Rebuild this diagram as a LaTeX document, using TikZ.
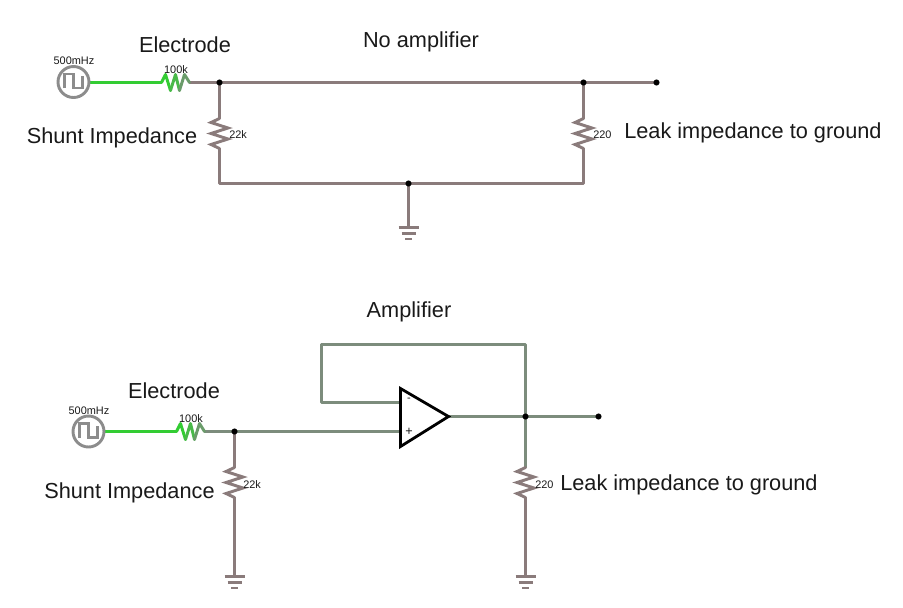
\documentclass[tikz,border=0pt]{standalone}
\usepackage{fontspec}
\usetikzlibrary{backgrounds}
\setmainfont{Liberation Sans}
\definecolor{wireA}{HTML}{8A7B7B}
\definecolor{wireB}{HTML}{7C8C7C}
\definecolor{live}{HTML}{33CC33}
\definecolor{srcgray}{HTML}{8C8C8C}
\tikzset{
  x=0.75pt,y=-0.75pt,
  wire/.style={line width=2.2pt,color=wireA,line cap=round,line join=round},
  wireg/.style={wire,color=wireB},
  wirelive/.style={wire,color=live},
  dot/.style={circle,fill=black,inner sep=0pt,minimum size=4.6pt},
  lab/.style={font=\fontsize{16.3}{19}\selectfont,text=black!90,inner sep=0pt},
  small/.style={font=\fontsize{8.2}{10}\selectfont,text=black!90,inner sep=0pt},
  pt/.style={inner sep=0pt,outer sep=0pt,minimum size=0pt},
  pics/srcwave/.style={code={
    \draw[line width=2.2pt,color=srcgray] (0,0) circle (15.5);
    \draw[line width=1.9pt,color=srcgray,line join=miter] (-9,6)--(-9,-8)--(0,-8)--(0,6)--(9,6)--(9,-6);
  }},
  pics/gnd/.style={code={
    \draw[wire,line cap=butt,line width=1.7pt] (-10,0)--(10,0);
    \draw[wire,line cap=butt,line width=1.7pt] (-7,6)--(7,6);
    \draw[wire,line cap=butt,line width=1.7pt] (-3.5,11.5)--(3.5,11.5);
  }},
  pics/vres/.style={code={
    \draw[wire,line join=miter] (0,0)--(-8.5,4)--(8.5,9.5)--(-8.5,15)--(8.5,20.5)--(-8.5,26)--(0,30);
  }},
  pics/hres/.style={code={
    \draw[wire,color=live] (0,0)--(4,-8)--(9,8);
    \draw[wire,color=live!70!wireB] (9,8)--(14,-8)--(18,8);
    \draw[wire,color=live!25!wireB] (18,8)--(23,-8)--(28,0);
  }}
}
\begin{document}
\begin{tikzpicture}
\useasboundingbox (0,0) rectangle (903,607);
\begin{scope}[shift={(0.5,0.5)}]
% ---- top circuit
\pic at (73,81.5) {srcwave};
\node[pt] (s1) at (89,82) {};
\node[pt] (r1a) at (161,82) {};
\node[pt] (r1b) at (189,82) {};
\pic at (r1a) {hres};
\node[dot] (j1) at (219,82) {};
\node[dot] (j2) at (583,82) {};
\node[dot] (o1) at (656,82) {};
\node[pt] (r2a) at (219,118) {};
\node[pt] (r2b) at (219,148) {};
\pic at (r2a) {vres};
\node[pt] (r3a) at (583,118) {};
\node[pt] (r3b) at (583,148) {};
\pic at (r3a) {vres};
\node[pt] (c1) at (219,183) {};
\node[pt] (c2) at (583,183) {};
\node[dot] (j3) at (408,183) {};
\node[pt] (g1) at (408,227) {};
\pic at (g1) {gnd};
\begin{scope}[on background layer]
\draw[wirelive] (s1.center)--(r1a.center);
\draw[wire] (r1b.center)--(j1.center)--(j2.center)--(o1.center);
\draw[wire] (j1.center)--(r2a.center);
\draw[wire] (j2.center)--(r3a.center);
\draw[wire] (r2b.center)--(c1.center)--(c2.center)--(r3b.center);
\draw[wire] (j3.center)--(g1.center);
\end{scope}
\node[small,anchor=center] at (73.5,60) {500mHz};
\node[small,anchor=center] at (175.5,69) {100k};
\node[small,anchor=west] at (228.5,134) {22k};
\node[small,anchor=west] at (592.5,134) {220};
\node[lab] at (184.5,44) {Electrode};
\node[lab] at (420.5,41.5) {No amplifier};
\node[lab,anchor=west] at (26,137.5) {Shunt Impedance};
\node[lab,anchor=west] at (623.5,132.5) {Leak impedance to ground};
% ---- bottom circuit
\pic at (88,431) {srcwave};
\node[pt] (s2) at (104,431) {};
\node[pt] (r4a) at (176,431) {};
\node[pt] (r4b) at (204,431) {};
\pic at (r4a) {hres};
\node[dot] (j4) at (234,431) {};
\node[pt] (ip) at (400,431) {};
\node[pt] (im) at (400,402) {};
\node[pt] (f1) at (321,402) {};
\node[pt] (f2) at (321,344) {};
\node[pt] (f3) at (525,344) {};
\node[dot] (j5) at (525,416) {};
\node[dot] (o2) at (598,416) {};
\node[pt] (ao) at (448,416) {};
\node[pt] (r5a) at (234,467) {};
\node[pt] (r5b) at (234,497) {};
\pic at (r5a) {vres};
\node[pt] (r6a) at (525,467) {};
\node[pt] (r6b) at (525,497) {};
\pic at (r6a) {vres};
\node[pt] (g2) at (234,576) {};
\node[pt] (g3) at (525,576) {};
\pic at (g2) {gnd};
\pic at (g3) {gnd};
\begin{scope}[on background layer]
\draw[wirelive] (s2.center)--(r4a.center);
\draw[wireg] (r4b.center)--(j4.center)--(ip.center);
\draw[wireg] (im.center)--(f1.center)--(f2.center)--(f3.center)--(j5.center);
\draw[wireg] (ao.center)--(j5.center)--(o2.center);
\draw[wireg] (j5.center)--(r6a.center);
\draw[wire] (j4.center)--(r5a.center);
\draw[wire] (r5b.center)--(g2.center);
\draw[wire] (r6b.center)--(g3.center);
\end{scope}
\draw[line width=2.1pt,color=black,fill=white,line join=miter] (400,388)--(400,446)--(ao.center)--cycle;
\node[small] at (408.5,399.5) {-};
\node[small,font=\fontsize{9.5}{10}\selectfont] at (408.5,431) {+};
\node[small,anchor=center] at (88.5,410) {500mHz};
\node[small,anchor=center] at (190.5,418) {100k};
\node[small,anchor=west] at (242.5,484) {22k};
\node[small,anchor=west] at (534.5,484) {220};
\node[lab] at (173.5,390) {Electrode};
\node[lab] at (408.5,311) {Amplifier};
\node[lab,anchor=west] at (43.5,492) {Shunt Impedance};
\node[lab,anchor=west] at (559.5,484) {Leak impedance to ground};
\end{scope}
\end{tikzpicture}
\end{document}
